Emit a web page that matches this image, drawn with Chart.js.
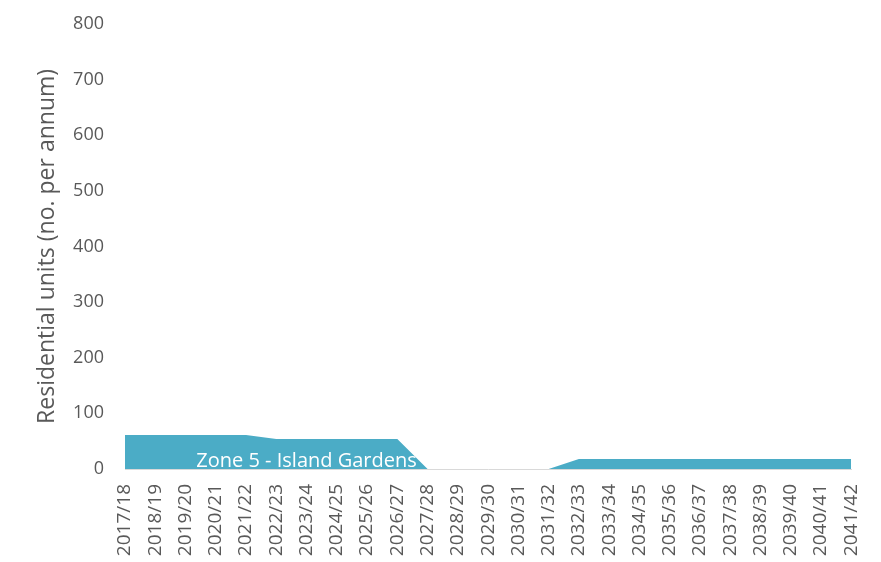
<!DOCTYPE html>
<html>
<head>
<meta charset="utf-8">
<title>Residential units</title>
<script src="https://cdn.jsdelivr.net/npm/chart.js@4.4.0/dist/chart.umd.min.js"></script>
<style>
  body { margin: 0; background: #fff; }
  #wrap { width: 881px; height: 562px; position: relative; }
</style>
</head>
<body>
<div id="wrap"><canvas id="area"></canvas></div>
<script>
// financial years on the x axis
var years = [
  "2017/18", "2018/19", "2019/20", "2020/21", "2021/22",
  "2022/23", "2023/24", "2024/25", "2025/26", "2026/27",
  "2027/28", "2028/29", "2029/30", "2030/31", "2031/32",
  "2032/33", "2033/34", "2034/35", "2035/36", "2036/37",
  "2037/38", "2038/39", "2039/40", "2040/41", "2041/42"
];

// residential units per annum, Zone 5
var zoneName = "Zone 5 - Island Gardens";
var zoneUnits = [
  61, 61, 61, 61, 61,
  54, 54, 54, 54, 54,
  0, 0, 0, 0, 0,
  18, 18, 18, 18, 18,
  18, 18, 18, 18, 18
];

// y axis range
var yMax = 800;
var yStep = 100;
var labelIndex = 6; // category the series label sits over

var grey = "#595959";
var teal = "#4BACC6";

// writes the series name inside the area, like the original data label
var zoneLabel = {
  id: "zoneLabel",
  afterDatasetsDraw: function (chart) {
    var ctx = chart.ctx;
    var x = chart.scales.x.getPixelForValue(labelIndex);
    var y = chart.scales.y.getPixelForValue(0);
    ctx.save();
    ctx.font = "20px 'Open Sans'";
    ctx.fillStyle = "#ffffff";
    ctx.textAlign = "center";
    ctx.textBaseline = "alphabetic";
    ctx.fillText(zoneName, x, y - 2);
    ctx.restore();
  }
};

var ctx = document.getElementById("area").getContext("2d");
var chart = new Chart(ctx, {
  type: "line",
  data: {
    labels: years,
    datasets: [
      {
        label: zoneName,
        data: zoneUnits,
        borderColor: teal,
        backgroundColor: teal,
        borderWidth: 0,
        pointRadius: 0,
        tension: 0,
        fill: "origin"
      }
    ]
  },
  options: {
    responsive: true,
    maintainAspectRatio: false,
    animation: false,
    layout: {
      padding: { top: 11, right: 29, bottom: 0, left: 0 }
    },
    plugins: {
      legend: { display: false },
      tooltip: { enabled: false }
    },
    scales: {
      x: {
        offset: false,
        grid: { display: false },
        border: { display: true, color: "#D9D9D9", width: 1 },
        ticks: {
          color: grey,
          font: { family: "'Open Sans'", size: 19 },
          minRotation: 90,
          maxRotation: 90,
          autoSkip: false,
          padding: 7
        },
        afterFit: function (scale) {
          scale.height = 93;
        }
      },
      y: {
        min: 0,
        max: yMax,
        grid: { display: false },
        border: { display: false },
        ticks: {
          stepSize: yStep,
          color: grey,
          font: { family: "'Open Sans'", size: 18 },
          padding: 13
        },
        title: {
          display: true,
          text: "Residential units (no. per annum)",
          color: grey,
          font: { family: "'Open Sans'", size: 23 },
          padding: { top: 34, bottom: 0 }
        },
        afterFit: function (scale) {
          scale.width = 125;
        }
      }
    }
  },
  plugins: [zoneLabel]
});
</script>
</body>
</html>
